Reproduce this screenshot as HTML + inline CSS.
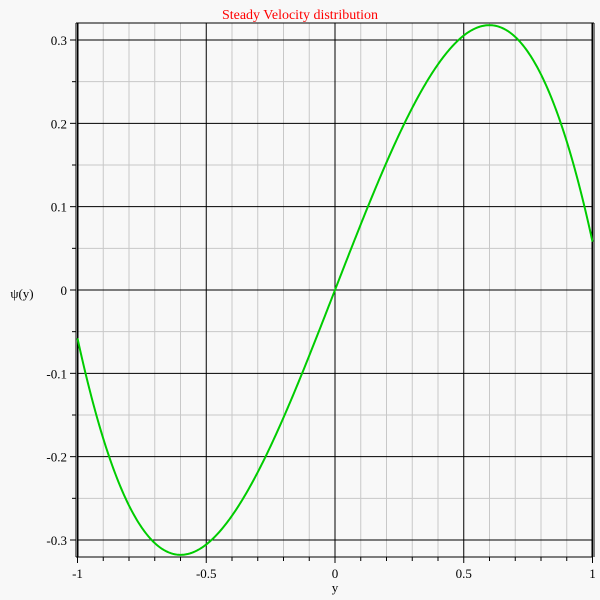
<!DOCTYPE html>
<html><head><meta charset="utf-8"><style>
html,body{margin:0;padding:0;background:#f8f8f8;}
svg{display:block;font-family:"Liberation Serif",serif;}
</style></head><body>
<svg id="s" width="600" height="600" xmlns="http://www.w3.org/2000/svg">
<rect width="600" height="600" fill="#f8f8f8"/>
<g id="grid"></g>
<text x="300" y="19" text-anchor="middle" font-size="14" fill="#ff0000">Steady Velocity distribution</text>
<text x="335" y="592" text-anchor="middle" font-size="13">y</text>
<text x="22" y="298" text-anchor="middle" font-size="13">ψ(y)</text>
<path id="c" fill="none" stroke="#00cc00" stroke-width="2"/>
</svg>
<script>
var g=document.getElementById('grid'),h='';
function X(v){return 335+v*257.5;}function Y(v){return 290-v*833.3;}
for(var i=-10;i<=10;i++){var x=X(i/10);if(i%5)h+='<line x1="'+x+'" y1="23" x2="'+x+'" y2="557" stroke="#c8c8c8"/>';}
for(var j=-6;j<=6;j++){var y=Y(j*0.05);if(j%2)h+='<line x1="77" y1="'+y+'" x2="593" y2="'+y+'" stroke="#c8c8c8"/>';}
for(var i=-2;i<=2;i++){var x=X(i/2);h+='<line x1="'+x+'" y1="23" x2="'+x+'" y2="557" stroke="#000"/>';}
for(var j=-3;j<=3;j++){var y=Y(j*0.1);h+='<line x1="77" y1="'+y+'" x2="593" y2="'+y+'" stroke="#000"/>';}
h+='<line x1="76" y1="23" x2="76" y2="557" stroke="#000"/><line x1="78" y1="23" x2="78" y2="557" stroke="#000"/>';
h+='<line x1="76" y1="557" x2="593" y2="557" stroke="#000"/><line x1="592" y1="23" x2="592" y2="557" stroke="#000"/><line x1="594" y1="23" x2="594" y2="557" stroke="#000"/><line x1="76" y1="23" x2="594" y2="23" stroke="#000"/>';
for(var i=-10;i<=10;i++){var x=X(i/10);h+='<line x1="'+x+'" y1="557" x2="'+x+'" y2="'+(i%5?561:563)+'" stroke="#000"/>';}
for(var j=-6;j<=6;j++){var y=Y(j*0.05);h+='<line x1="'+(j%2?72:70)+'" y1="'+y+'" x2="76" y2="'+y+'" stroke="#000"/>';}
var xl=['-1','-0.5','0','0.5','1'];for(var i=0;i<5;i++){h+='<text x="'+X(-1+i*0.5)+'" y="578" text-anchor="middle" font-size="13">'+xl[i]+'</text>';}
var yl=['-0.3','-0.2','-0.1','0','0.1','0.2','0.3'];for(var j=0;j<7;j++){h+='<text x="67" y="'+(Y(-0.3+j*0.1)+5)+'" text-anchor="end" font-size="13">'+yl[j]+'</text>';}
g.innerHTML=h;
var d='';for(var k=0;k<=400;k++){var v=-1+k/200;var p=0.795*v-0.737*v*v*v;d+=(k?'L':'M')+X(v).toFixed(2)+' '+Y(p).toFixed(2);}
document.getElementById('c').setAttribute('d',d);
</script>
</body></html>
